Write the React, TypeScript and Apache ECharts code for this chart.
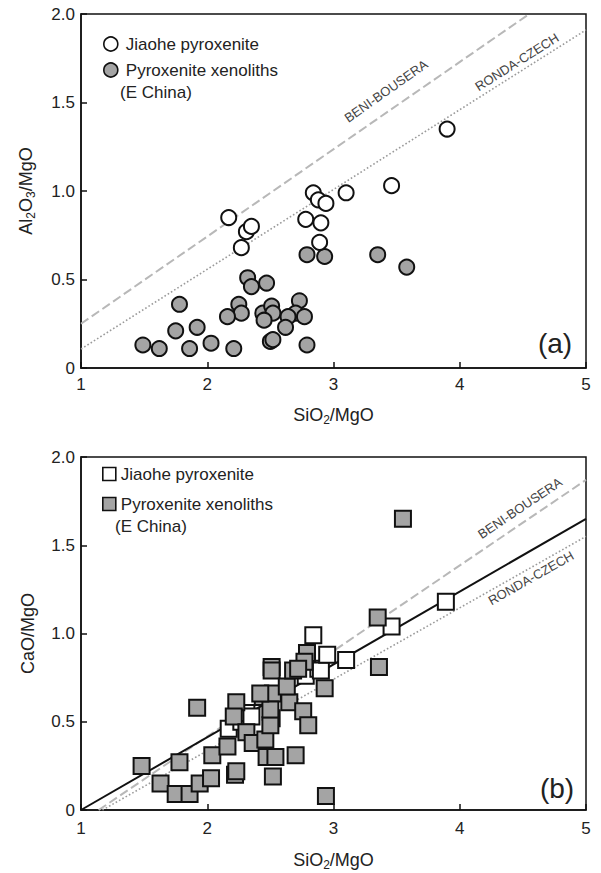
import React, { useEffect, useRef } from "react";
import * as echarts from "echarts";

// ---- Panel (a): Al2O3/MgO vs SiO2/MgO ----
const jiaoheSiO2a = [2.17, 2.27, 2.31, 2.35, 2.78, 2.84, 2.88, 2.90, 2.94, 2.89, 3.10, 3.46, 3.90];
const jiaoheAl2O3 = [0.85, 0.68, 0.77, 0.80, 0.84, 0.99, 0.95, 0.82, 0.93, 0.71, 0.99, 1.03, 1.35];

const xenoSiO2a = [2.79, 2.93, 3.35, 3.58, 2.32, 2.35, 2.47, 1.78, 2.25, 2.27, 2.16, 2.44, 2.51, 2.52, 2.45,
  2.73, 2.70, 2.77, 2.64, 2.62, 1.75, 1.92, 1.49, 1.62, 1.86, 2.03, 2.21, 2.50, 2.52, 2.79];
const xenoAl2O3 = [0.64, 0.63, 0.64, 0.57, 0.51, 0.46, 0.48, 0.36, 0.36, 0.31, 0.29, 0.31, 0.35, 0.31, 0.27,
  0.38, 0.31, 0.29, 0.29, 0.23, 0.21, 0.23, 0.13, 0.11, 0.11, 0.14, 0.11, 0.15, 0.16, 0.13];

const beniA = [[1, 0.25], [4.55, 2.0]];
const rondaA = [[1, 0.107], [5, 1.91]];

// ---- Panel (b): CaO/MgO vs SiO2/MgO ----
const jiaoheSiO2b = [2.17, 2.27, 2.31, 2.35, 2.78, 2.84, 2.88, 2.90, 2.95, 3.10, 3.46, 3.89];
const jiaoheCaO = [0.46, 0.50, 0.55, 0.53, 0.76, 0.99, 0.80, 0.79, 0.88, 0.85, 1.04, 1.18];

const xenoSiO2b = [1.48, 1.63, 1.75, 1.86, 1.78, 1.92, 1.94, 2.03, 2.04, 2.16, 2.22, 2.23, 2.23, 2.21, 2.31,
  2.36, 2.46, 2.47, 2.54, 2.52, 2.51, 2.50, 2.44, 2.51, 2.51, 2.52, 2.65, 2.63, 2.68, 2.70, 2.50, 3.35, 3.36,
  2.94, 2.79, 2.77, 2.93, 2.76, 2.80, 2.42, 3.55, 2.72];
const xenoCaO = [0.25, 0.15, 0.09, 0.09, 0.27, 0.58, 0.15, 0.18, 0.31, 0.36, 0.20, 0.22, 0.61, 0.53, 0.44,
  0.38, 0.40, 0.30, 0.30, 0.19, 0.52, 0.48, 0.64, 0.81, 0.79, 0.66, 0.61, 0.70, 0.79, 0.31, 0.57, 1.09, 0.81,
  0.08, 0.89, 0.84, 0.69, 0.56, 0.48, 0.66, 1.65, 0.80];

const trendB = [[1, 0], [5, 1.65]];
const beniB = [[1.14, 0], [5, 1.87]];
const rondaB = [[1.17, 0], [5, 1.55]];

const xTicks = ["1", "2", "3", "4", "5"];

const FONT = '"Liberation Sans", Arial, Helvetica, sans-serif';
const GRAY = "#a4a4a4";

const zip = (xs: number[], ys: number[]) => xs.map((x, i) => [x, ys[i]]);

export default function App() {
  const ref = useRef<HTMLDivElement>(null);
  useEffect(() => {
    if (!ref.current) return;
    const chart = echarts.init(ref.current, undefined, { renderer: "svg" });

    const richName = {
      n: { fontSize: 18, fontFamily: FONT, color: "#222" },
      s: { fontSize: 12, fontFamily: FONT, color: "#222", padding: [11, 0, 0, 0] },
    };

    const mkX = (gridIndex: number, margin: number, gap: number) => ({
      type: "value",
      gridIndex,
      min: 1,
      max: 5,
      interval: 1,
      name: "{n|SiO}{s|2}{n|/MgO}",
      nameLocation: "middle",
      nameGap: gap,
      nameTextStyle: { rich: richName },
      axisLine: { show: true, lineStyle: { color: "#111", width: 1.5 } },
      axisTick: { show: true, inside: true, length: 6, lineStyle: { color: "#111", width: 1.5 } },
      axisLabel: {
        margin,
        fontSize: 17,
        fontFamily: FONT,
        color: "#222",
        formatter: (v: number) => xTicks[Math.round(v) - 1] ?? "",
      },
      splitLine: { show: false },
    });

    const mkY = (gridIndex: number, name: string) => ({
      type: "value",
      gridIndex,
      min: 0,
      max: 2,
      interval: 0.5,
      name,
      nameLocation: "middle",
      nameGap: 44,
      nameTextStyle: { rich: richName },
      axisLine: { show: true, lineStyle: { color: "#111", width: 1.5 } },
      axisTick: { show: true, inside: true, length: 6, lineStyle: { color: "#111", width: 1.5 } },
      axisLabel: {
        margin: 6,
        fontSize: 17,
        fontFamily: FONT,
        color: "#222",
        formatter: (v: number) => (v === 0 ? "0" : v.toFixed(1)),
      },
      splitLine: { show: false },
    });

    const refLine = (name: string, data: number[][], xi: number, style: any) => ({
      type: "line",
      name,
      xAxisIndex: xi,
      yAxisIndex: xi,
      data,
      symbol: "none",
      silent: true,
      lineStyle: style,
      z: 1,
    });

    const dashed = { color: "#b8b8b8", width: 2, type: [9, 4] };
    const dotted = { color: "#9a9a9a", width: 1.6, type: [1.6, 2.2] };

    const legendText = { fontSize: 17, fontFamily: FONT, color: "#222", lineHeight: 22 };
    const lineLabel = { fontSize: 13, fontFamily: FONT, fill: "#444", align: "center", verticalAlign: "middle" };

    chart.setOption({
      animation: false,
      backgroundColor: "#fff",
      grid: [
        { left: 81, top: 14, width: 505, height: 354, show: true, borderColor: "#111", borderWidth: 1.5, backgroundColor: "transparent" },
        { left: 81, top: 457, width: 505, height: 353, show: true, borderColor: "#111", borderWidth: 1.5, backgroundColor: "transparent" },
      ],
      xAxis: [mkX(0, 8, 35), mkX(1, 10, 38)],
      yAxis: [mkY(0, "{n|Al}{s|2}{n|O}{s|3}{n|/MgO}"), mkY(1, "{n|CaO/MgO}")],
      legend: [
        {
          orient: "vertical",
          left: 98,
          top: 28,
          itemWidth: 14,
          itemHeight: 14,
          itemGap: 4,
          selectedMode: false,
          textStyle: { ...legendText, padding: [0, 0, 0, 3] },
          data: [
            { name: "Jiaohe pyroxenite", icon: "circle", itemStyle: { color: "#fff", borderColor: "#111", borderWidth: 1.6 } },
            { name: "Pyroxenite xenoliths", icon: "circle", itemStyle: { color: GRAY, borderColor: "#111", borderWidth: 1.6 } },
          ],
        },
        {
          orient: "vertical",
          left: 97,
          top: 458,
          itemWidth: 13,
          itemHeight: 13,
          itemGap: 8,
          selectedMode: false,
          textStyle: legendText,
          data: [
            { name: "Jiaohe pyroxenite", icon: "rect", itemStyle: { color: "#fff", borderColor: "#111", borderWidth: 1.6 } },
            { name: "Pyroxenite xenoliths", icon: "rect", itemStyle: { color: GRAY, borderColor: "#111", borderWidth: 1.6 } },
          ],
        },
      ],
      series: [
        refLine("BENI-BOUSERA", beniA, 0, dashed),
        refLine("RONDA-CZECH", rondaA, 0, dotted),
        {
          type: "scatter",
          name: "Pyroxenite xenoliths",
          xAxisIndex: 0,
          yAxisIndex: 0,
          data: zip(xenoSiO2a, xenoAl2O3),
          symbol: "circle",
          symbolSize: 15,
          itemStyle: { color: GRAY, borderColor: "#111", borderWidth: 2, opacity: 1 },
          z: 3,
        },
        {
          type: "scatter",
          name: "Jiaohe pyroxenite",
          xAxisIndex: 0,
          yAxisIndex: 0,
          data: zip(jiaoheSiO2a, jiaoheAl2O3),
          symbol: "circle",
          symbolSize: 15,
          itemStyle: { color: "#fff", borderColor: "#111", borderWidth: 2, opacity: 1 },
          z: 4,
        },
        refLine("BENI-BOUSERA", beniB, 1, dashed),
        refLine("RONDA-CZECH", rondaB, 1, dotted),
        refLine("Trend", trendB, 1, { color: "#111", width: 2, type: "solid" }),
        {
          type: "scatter",
          name: "Jiaohe pyroxenite",
          xAxisIndex: 1,
          yAxisIndex: 1,
          data: zip(jiaoheSiO2b, jiaoheCaO),
          symbol: "rect",
          symbolSize: 16,
          itemStyle: { color: "#fff", borderColor: "#111", borderWidth: 2, opacity: 1 },
          z: 3,
        },
        {
          type: "scatter",
          name: "Pyroxenite xenoliths",
          xAxisIndex: 1,
          yAxisIndex: 1,
          data: zip(xenoSiO2b, xenoCaO),
          symbol: "rect",
          symbolSize: 16,
          itemStyle: { color: GRAY, borderColor: "#111", borderWidth: 2, opacity: 1 },
          z: 4,
        },
      ],
      graphic: [
        { type: "text", x: 120, y: 92, style: { text: "(E China)", fontSize: 17, fontFamily: FONT, fill: "#222", verticalAlign: "middle" } },
        { type: "text", x: 115, y: 526, style: { text: "(E China)", fontSize: 17, fontFamily: FONT, fill: "#222", verticalAlign: "middle" } },
        { type: "text", x: 386, y: 91, rotation: 0.612, style: { text: "BENI-BOUSERA", ...lineLabel } },
        { type: "text", x: 517, y: 62, rotation: 0.564, style: { text: "RONDA-CZECH", ...lineLabel } },
        { type: "text", x: 520, y: 508, rotation: 0.592, style: { text: "BENI-BOUSERA", ...lineLabel } },
        { type: "text", x: 531, y: 578, rotation: 0.513, style: { text: "RONDA-CZECH", ...lineLabel } },
        { type: "text", x: 555, y: 343, style: { text: "(a)", fontSize: 28, fontFamily: FONT, fill: "#222", align: "center", verticalAlign: "middle" } },
        { type: "text", x: 557, y: 788, style: { text: "(b)", fontSize: 28, fontFamily: FONT, fill: "#222", align: "center", verticalAlign: "middle" } },
      ],
    });

    return () => chart.dispose();
  }, []);

  return (
    <div
      ref={ref}
      style={{ position: "absolute", left: 0, top: 0, width: 601, height: 873, background: "#fff" }}
    />
  );
}
